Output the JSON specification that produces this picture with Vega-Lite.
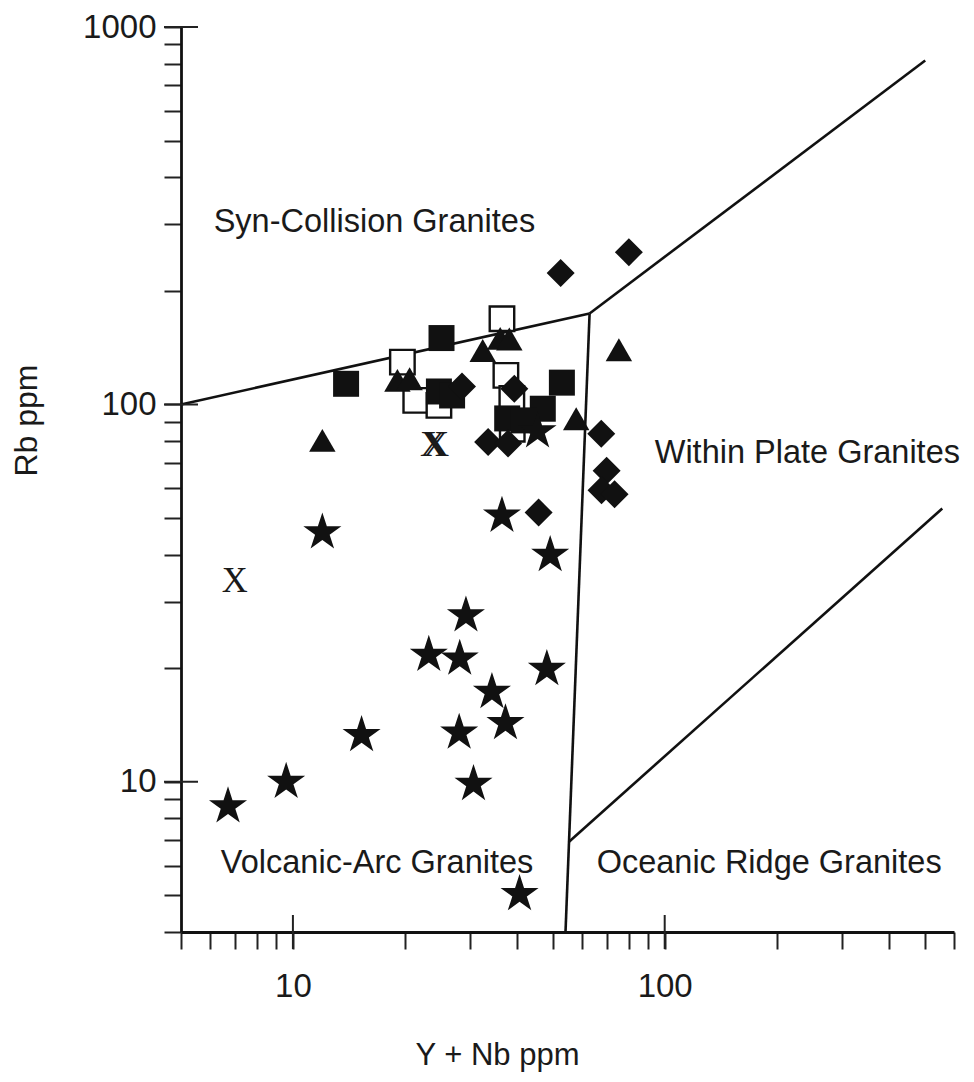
{
  "$schema": "https://vega.github.io/schema/vega-lite/v6.json",
  "width": 773,
  "height": 905,
  "autosize": {"type": "none"},
  "padding": {"left": 181, "top": 27, "right": 20, "bottom": 150},
  "background": "white",
  "config": {
    "view": {"stroke": null},
    "font": "Liberation Sans",
    "axis": {"labelFont": "Liberation Sans", "titleFont": "Liberation Sans", "grid": false}
  },
  "datasets": {
    "boundaries": [
      {"seg": "VAG/syn-COLG", "i": 0, "x": 5, "y": 100},
      {"seg": "VAG/syn-COLG", "i": 1, "x": 62.8, "y": 174.2},
      {"seg": "syn-COLG/WPG", "i": 0, "x": 62.8, "y": 174.2},
      {"seg": "syn-COLG/WPG", "i": 1, "x": 502, "y": 815},
      {"seg": "VAG/WPG", "i": 0, "x": 62.8, "y": 174.2},
      {"seg": "VAG/WPG", "i": 1, "x": 54.1, "y": 4},
      {"seg": "WPG/ORG", "i": 0, "x": 55.2, "y": 6.93},
      {"seg": "WPG/ORG", "i": 1, "x": 558, "y": 53}
    ],
    "majorX": [{"v": 10}, {"v": 100}],
    "majorY": [{"v": 10}, {"v": 100}, {"v": 1000}],
    "open": [
      {"yn": 19.7, "rb": 129.4},
      {"yn": 21.4, "rb": 102.5},
      {"yn": 24.7, "rb": 99.4},
      {"yn": 36.5, "rb": 168.7},
      {"yn": 37.4, "rb": 119.4},
      {"yn": 38.8, "rb": 103.7},
      {"yn": 38.9, "rb": 85.9}
    ],
    "filled": [
      {"kind": "square", "yn": 13.9, "rb": 113.4},
      {"kind": "square", "yn": 25.1, "rb": 149.9},
      {"kind": "square", "yn": 24.7, "rb": 108.2},
      {"kind": "square", "yn": 26.8, "rb": 105.6},
      {"kind": "square", "yn": 52.9, "rb": 114.2},
      {"kind": "square", "yn": 47.0, "rb": 97.4},
      {"kind": "square", "yn": 37.7, "rb": 91.8},
      {"kind": "square", "yn": 41.7, "rb": 90.7},
      {"kind": "triangle", "yn": 12.0, "rb": 80.3},
      {"kind": "triangle", "yn": 19.1, "rb": 115.8},
      {"kind": "triangle", "yn": 20.6, "rb": 117.0},
      {"kind": "triangle", "yn": 32.4, "rb": 139.0},
      {"kind": "triangle", "yn": 36.1, "rb": 149.6},
      {"kind": "triangle", "yn": 38.2, "rb": 149.1},
      {"kind": "triangle", "yn": 75.3, "rb": 139.6},
      {"kind": "triangle", "yn": 57.8, "rb": 91.6},
      {"kind": "diamond", "yn": 52.5, "rb": 222.8},
      {"kind": "diamond", "yn": 80.1, "rb": 253.2},
      {"kind": "diamond", "yn": 28.5, "rb": 111.6},
      {"kind": "diamond", "yn": 39.4, "rb": 110.0},
      {"kind": "diamond", "yn": 33.5, "rb": 79.5},
      {"kind": "diamond", "yn": 37.9, "rb": 78.8},
      {"kind": "diamond", "yn": 67.5, "rb": 83.6},
      {"kind": "diamond", "yn": 69.8, "rb": 66.7},
      {"kind": "diamond", "yn": 67.6, "rb": 59.2},
      {"kind": "diamond", "yn": 73.3, "rb": 57.8},
      {"kind": "diamond", "yn": 45.8, "rb": 51.7},
      {"kind": "star", "yn": 6.69, "rb": 8.61},
      {"kind": "star", "yn": 9.59, "rb": 10.0},
      {"kind": "star", "yn": 12.0, "rb": 45.8},
      {"kind": "star", "yn": 15.3, "rb": 13.3},
      {"kind": "star", "yn": 23.2, "rb": 21.7},
      {"kind": "star", "yn": 28.1, "rb": 21.2},
      {"kind": "star", "yn": 29.2, "rb": 27.6},
      {"kind": "star", "yn": 28.0, "rb": 13.5},
      {"kind": "star", "yn": 34.3, "rb": 17.3},
      {"kind": "star", "yn": 37.3, "rb": 14.3},
      {"kind": "star", "yn": 30.6, "rb": 9.87},
      {"kind": "star", "yn": 36.5, "rb": 50.7},
      {"kind": "star", "yn": 49.2, "rb": 39.9},
      {"kind": "star", "yn": 48.2, "rb": 19.9},
      {"kind": "star", "yn": 40.7, "rb": 5.04},
      {"kind": "star", "yn": 45.5, "rb": 84.8}
    ],
    "crosses": [
      {"yn": 6.98, "rb": 34.0},
      {"yn": 23.8, "rb": 78.3},
      {"yn": 24.3, "rb": 78.3}
    ],
    "fields": [
      {"name": "Syn-Collision Granites", "x": 6.12, "y": 285.5},
      {"name": "Within Plate Granites", "x": 94.0, "y": 69.8},
      {"name": "Volcanic-Arc Granites", "x": 6.40, "y": 5.72},
      {"name": "Oceanic Ridge Granites", "x": 65.6, "y": 5.72}
    ]
  },
  "layer": [
    {
      "data": {"name": "boundaries"},
      "mark": {"type": "line", "color": "#111111", "strokeWidth": 2.6},
      "encoding": {
        "x": {
          "field": "x", "type": "quantitative",
          "scale": {"type": "log", "domain": [5, 600], "nice": false},
          "axis": {
            "orient": "bottom",
            "values": [5, 6, 7, 8, 9, 10, 20, 30, 40, 50, 60, 70, 80, 90, 100, 200, 300, 400, 500, 600],
            "labelExpr": "datum.value == 10 || datum.value == 100 ? '' + datum.value : ''",
            "labelOverlap": false, "labelFlush": false,
            "labelFontSize": 33, "labelColor": "#1a1a1a", "labelPadding": 21,
            "domainColor": "#111111", "domainWidth": 2.8,
            "tickColor": "#222222", "tickWidth": 2, "tickSize": 17,
            "title": "Y + Nb ppm", "titleFontSize": 31, "titleFontWeight": "normal", "titleColor": "#1a1a1a",
            "titleX": 316, "titleY": 132, "titleAlign": "center", "titleBaseline": "alphabetic"
          }
        },
        "y": {
          "field": "y", "type": "quantitative",
          "scale": {"type": "log", "domain": [4, 1000], "nice": false},
          "axis": {
            "orient": "left",
            "values": [4, 5, 6, 7, 8, 9, 10, 20, 30, 40, 50, 60, 70, 80, 90, 100, 200, 300, 400, 500, 600, 700, 800, 900, 1000],
            "labelExpr": "datum.value == 10 || datum.value == 100 || datum.value == 1000 ? '' + datum.value : ''",
            "labelOverlap": false, "labelFlush": false,
            "labelFontSize": 33, "labelColor": "#1a1a1a", "labelPadding": 8,
            "domainColor": "#111111", "domainWidth": 2.8,
            "tickColor": "#222222", "tickWidth": 2, "tickSize": 17,
            "title": "Rb ppm", "titleFontSize": 32, "titleFontWeight": "normal", "titleColor": "#1a1a1a",
            "titleAngle": -90, "titleX": -145, "titleY": 393, "titleAlign": "center", "titleBaseline": "alphabetic"
          }
        },
        "detail": {"field": "seg", "type": "nominal"},
        "order": {"field": "i", "type": "quantitative"}
      }
    },
    {
      "data": {"name": "majorX"},
      "mark": {"type": "tick", "orient": "vertical", "size": 34, "thickness": 2, "color": "#222222", "opacity": 1},
      "encoding": {
        "x": {"field": "v", "type": "quantitative"},
        "y": {"datum": 4, "type": "quantitative"}
      }
    },
    {
      "data": {"name": "majorY"},
      "mark": {"type": "tick", "orient": "horizontal", "size": 34, "thickness": 2, "color": "#222222", "opacity": 1},
      "encoding": {
        "x": {"datum": 5, "type": "quantitative"},
        "y": {"field": "v", "type": "quantitative"}
      }
    },
    {
      "data": {"name": "open"},
      "mark": {"type": "point", "shape": "square", "filled": true, "fill": "white", "stroke": "#111111", "strokeWidth": 2.4, "size": 600, "opacity": 1},
      "encoding": {
        "x": {"field": "yn", "type": "quantitative"},
        "y": {"field": "rb", "type": "quantitative"}
      }
    },
    {
      "data": {"name": "filled"},
      "transform": [{"filter": "datum.kind == 'square'"}],
      "mark": {"type": "point", "shape": "square", "size": 676, "filled": true, "color": "#111111", "opacity": 1, "strokeWidth": 0},
      "encoding": {
        "x": {"field": "yn", "type": "quantitative"},
        "y": {"field": "rb", "type": "quantitative"}
      }
    },
    {
      "data": {"name": "filled"},
      "transform": [{"filter": "datum.kind == 'triangle'"}],
      "mark": {"type": "point", "shape": "triangle-up", "size": 700, "filled": true, "color": "#111111", "opacity": 1, "strokeWidth": 0},
      "encoding": {
        "x": {"field": "yn", "type": "quantitative"},
        "y": {"field": "rb", "type": "quantitative"}
      }
    },
    {
      "data": {"name": "filled"},
      "transform": [{"filter": "datum.kind == 'diamond'"}],
      "mark": {"type": "point", "shape": "diamond", "size": 784, "filled": true, "color": "#111111", "opacity": 1, "strokeWidth": 0},
      "encoding": {
        "x": {"field": "yn", "type": "quantitative"},
        "y": {"field": "rb", "type": "quantitative"}
      }
    },
    {
      "data": {"name": "filled"},
      "transform": [{"filter": "datum.kind == 'star'"}],
      "mark": {
        "type": "point",
        "shape": "M0,-1L0.2245,-0.309L0.9511,-0.309L0.3633,0.118L0.5878,0.809L0,0.382L-0.5878,0.809L-0.3633,0.118L-0.9511,-0.309L-0.2245,-0.309Z",
        "size": 1600, "filled": true, "color": "#111111", "opacity": 1, "strokeWidth": 0
      },
      "encoding": {
        "x": {"field": "yn", "type": "quantitative"},
        "y": {"field": "rb", "type": "quantitative"}
      }
    },
    {
      "data": {"name": "crosses"},
      "mark": {"type": "text", "text": "X", "font": "Liberation Serif", "fontSize": 36, "align": "center", "baseline": "middle", "color": "#1a1a1a"},
      "encoding": {
        "x": {"field": "yn", "type": "quantitative"},
        "y": {"field": "rb", "type": "quantitative"}
      }
    },
    {
      "data": {"name": "fields"},
      "mark": {"type": "text", "font": "Liberation Sans", "fontSize": 32.5, "align": "left", "baseline": "alphabetic", "color": "#1a1a1a"},
      "encoding": {
        "x": {"field": "x", "type": "quantitative"},
        "y": {"field": "y", "type": "quantitative"},
        "text": {"field": "name", "type": "nominal"}
      }
    }
  ]
}
